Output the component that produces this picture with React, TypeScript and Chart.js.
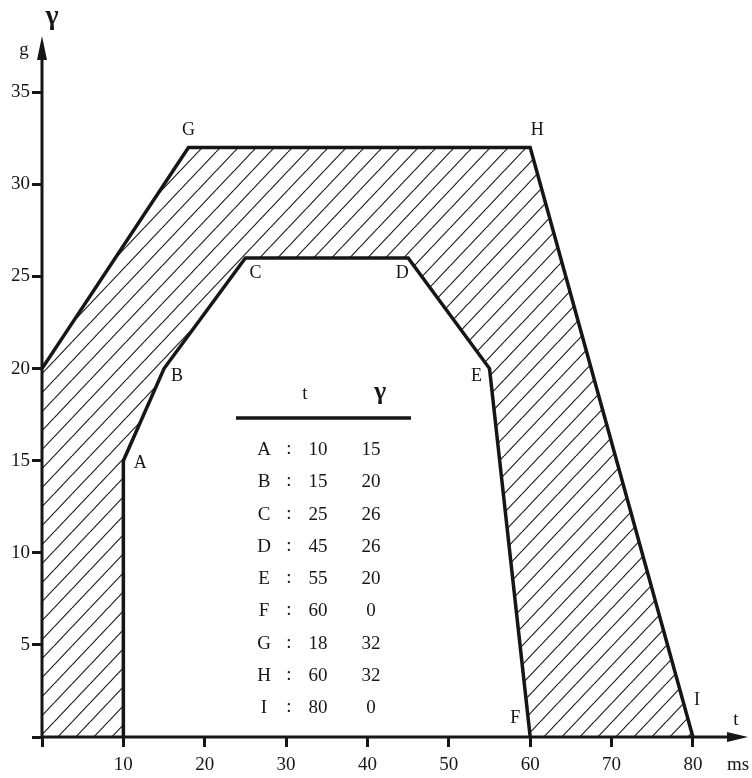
import React, { useEffect, useRef } from 'react';
import { Chart, registerables } from 'chart.js';

Chart.register(...registerables);

// ---- data ----
const xTicks = [0, 10, 20, 30, 40, 50, 60, 70, 80];
const yTicks = [0, 5, 10, 15, 20, 25, 30, 35];
const pointNames = ['A', 'B', 'C', 'D', 'E', 'F', 'G', 'H', 'I'];
const pointT = [10, 15, 25, 45, 55, 60, 18, 60, 80];
const pointG = [15, 20, 26, 26, 20, 0, 32, 32, 0];
const innerStart = [10, 0];
const outerStart = [0, 20];
const innerNames = ['A', 'B', 'C', 'D', 'E', 'F'];
const outerNames = ['G', 'H', 'I'];
const tableHeader = ['t', 'γ'];
const yAxisTitle = 'γ';
const yAxisUnit = 'g';
const xAxisTitle = 't';
const xAxisUnit = 'ms';

// ---- styles ----
const INK = '#161616';
const SERIF = '"Liberation Serif", "DejaVu Serif", serif';
const X_MAX = 86.4;
const Y_MAX = 38;
const labelOffsets: Record<string, [number, number]> = {
  A: [17, 3], B: [13, 8], C: [10, 15], D: [-6, 15], E: [-13, 8],
  F: [-15, -19], G: [0, -17], H: [7, -17], I: [4, -37],
};

function pt(name: string) {
  const i = pointNames.indexOf(name);
  return { x: pointT[i], y: pointG[i] };
}

export default function App() {
  const ref = useRef<HTMLCanvasElement>(null);

  useEffect(() => {
    const canvas = ref.current!;
    const tile = document.createElement('canvas');
    tile.width = 18;
    tile.height = 19;
    const tc = tile.getContext('2d')!;
    tc.strokeStyle = '#1a1a1a';
    tc.lineWidth = 1.15;
    for (const dx of [-18, 0, 18]) {
      tc.beginPath();
      tc.moveTo(dx, 19);
      tc.lineTo(dx + 18, 0);
      tc.stroke();
    }
    const pattern = canvas.getContext('2d')!.createPattern(tile, 'repeat')!;

    const innerData = [{ x: innerStart[0], y: innerStart[1] }, ...innerNames.map(pt)];
    const outerData = [{ x: outerStart[0], y: outerStart[1] }, ...outerNames.map(pt)];

    const overlay = {
      id: 'overlay',
      afterDatasetsDraw(chart: any) {
        const ctx = chart.ctx as CanvasRenderingContext2D;
        const xs = chart.scales.x;
        const ys = chart.scales.y;
        const x0 = xs.getPixelForValue(0);
        const y0 = ys.getPixelForValue(0);
        const top = chart.chartArea.top;
        const right = chart.chartArea.right;
        ctx.save();
        ctx.strokeStyle = INK;
        ctx.fillStyle = INK;
        ctx.lineWidth = 3;
        // y axis
        ctx.beginPath();
        ctx.moveTo(x0, y0 + 1);
        ctx.lineTo(x0, top + 20);
        ctx.stroke();
        ctx.beginPath();
        ctx.moveTo(x0, top - 1);
        ctx.lineTo(x0 - 5, top + 23);
        ctx.lineTo(x0 + 5, top + 23);
        ctx.closePath();
        ctx.fill();
        // x axis
        ctx.beginPath();
        ctx.moveTo(x0 - 1, y0);
        ctx.lineTo(right - 16, y0);
        ctx.stroke();
        ctx.beginPath();
        ctx.moveTo(right + 3, y0);
        ctx.lineTo(right - 18, y0 - 5);
        ctx.lineTo(right - 18, y0 + 5);
        ctx.closePath();
        ctx.fill();

        // point labels
        ctx.font = `18px ${SERIF}`;
        ctx.textAlign = 'center';
        ctx.textBaseline = 'middle';
        pointNames.forEach((n, i) => {
          const off = labelOffsets[n];
          ctx.fillText(n, xs.getPixelForValue(pointT[i]) + off[0], ys.getPixelForValue(pointG[i]) + off[1]);
        });

        // axis titles
        ctx.font = `bold 28px ${SERIF}`;
        ctx.fillText(yAxisTitle, x0 + 10, 17);
        ctx.font = `19px ${SERIF}`;
        ctx.fillText(yAxisUnit, 24, 50);
        ctx.fillText(xAxisTitle, 736, 720);
        ctx.fillText(xAxisUnit, 738, 765);

        // table
        ctx.font = `19px ${SERIF}`;
        ctx.fillText(tableHeader[0], 305, 394);
        ctx.font = `bold 26px ${SERIF}`;
        ctx.fillText(tableHeader[1], 380, 392);
        ctx.lineWidth = 3.5;
        ctx.beginPath();
        ctx.moveTo(236, 418);
        ctx.lineTo(411, 418);
        ctx.stroke();
        ctx.font = `19px ${SERIF}`;
        pointNames.forEach((n, i) => {
          const y = 450 + i * 32.3;
          ctx.fillText(n, 264, y);
          ctx.fillText(':', 289, y - 1);
          ctx.fillText(String(pointT[i]), 318, y);
          ctx.fillText(String(pointG[i]), 371, y);
        });
        ctx.restore();
      },
    };

    const chart = new Chart(canvas, {
      type: 'line',
      data: {
        datasets: [
          {
            data: innerData,
            borderColor: INK,
            borderWidth: 3.5,
            borderJoinStyle: 'miter',
            backgroundColor: '#ffffff',
            fill: 'origin',
            pointRadius: 0,
            tension: 0,
          },
          {
            data: outerData,
            borderColor: INK,
            borderWidth: 3.5,
            borderJoinStyle: 'miter',
            backgroundColor: pattern,
            fill: 'origin',
            pointRadius: 0,
            tension: 0,
          },
        ],
      },
      options: {
        animation: false,
        responsive: true,
        maintainAspectRatio: false,
        events: [],
        layout: { padding: { top: 37, right: 7, left: 0, bottom: 0 } },
        plugins: { legend: { display: false }, tooltip: { enabled: false } },
        scales: {
          x: {
            type: 'linear',
            min: 0,
            max: X_MAX,
            afterBuildTicks: (s: any) => { s.ticks = xTicks.map((v) => ({ value: v })); },
            afterFit: (s: any) => { s.height = 41; },
            grid: { drawOnChartArea: false, drawTicks: true, tickLength: 10, lineWidth: 3, color: INK },
            border: { display: false },
            ticks: {
              color: INK,
              padding: 7,
              maxRotation: 0,
              font: { family: SERIF, size: 19 },
              callback: (v: any) => (v === 0 ? '' : String(v)),
            },
          },
          y: {
            type: 'linear',
            min: 0,
            max: Y_MAX,
            afterBuildTicks: (s: any) => { s.ticks = yTicks.map((v) => ({ value: v })); },
            afterFit: (s: any) => { s.width = 42; },
            grid: { drawOnChartArea: false, drawTicks: true, tickLength: 10, lineWidth: 3, color: INK },
            border: { display: false },
            ticks: {
              color: INK,
              padding: 2,
              font: { family: SERIF, size: 19 },
              callback: (v: any) => (v === 0 ? '' : String(v)),
            },
          },
        },
      },
      plugins: [overlay],
    } as any);

    return () => chart.destroy();
  }, []);

  return (
    <div style={{ position: 'absolute', left: 0, top: 0, width: 752, height: 778, background: '#fff' }}>
      <canvas ref={ref} />
    </div>
  );
}
